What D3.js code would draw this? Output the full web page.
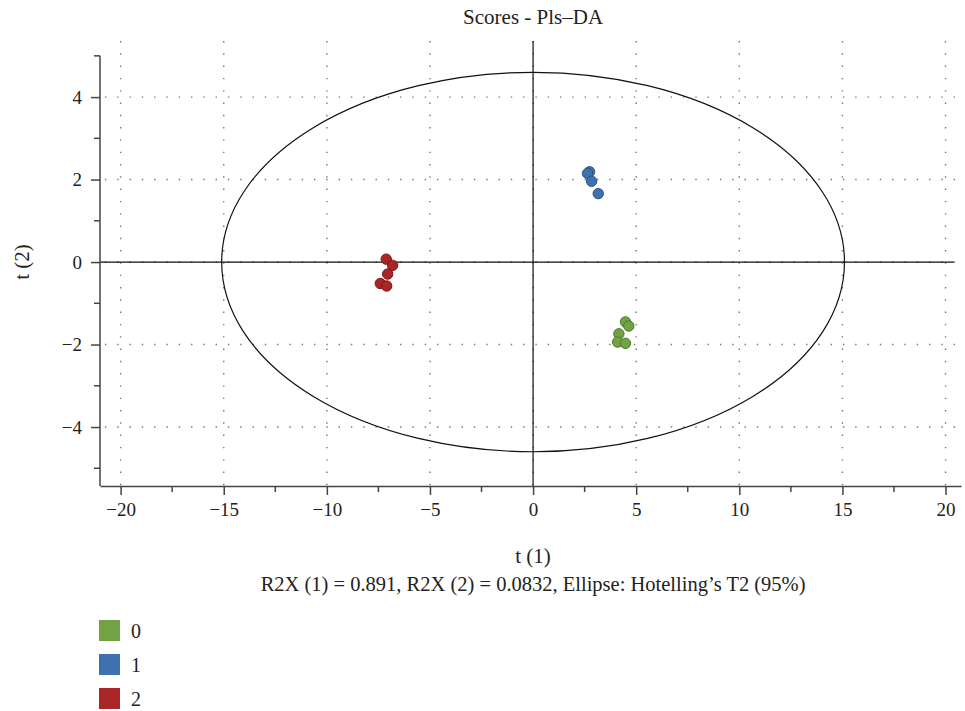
<!DOCTYPE html>
<html>
<head>
<meta charset="utf-8">
<script src="https://cdn.jsdelivr.net/npm/d3@7"></script>
<style>
  body { margin: 0; background: #fff; }
  text { font-family: "Liberation Serif", "DejaVu Serif", serif; fill: #222; }
</style>
</head>
<body>
<svg id="chart" width="965" height="711"></svg>
<script>
// group labels and scores
var groups = ["0", "1", "2"];
var groupColors = ["#72a244", "#3f71b0", "#aa2526"];
var groupStrokes = ["#4e7a2a", "#2a5288", "#7e1618"];

var t1 = [4.48, 4.64, 4.16, 4.10, 4.48,
          2.74, 2.64, 2.84, 3.16,
          -7.12, -6.81, -7.05, -7.41, -7.10];
var t2 = [-1.45, -1.55, -1.74, -1.94, -1.97,
          2.19, 2.15, 1.96, 1.66,
          0.07, -0.08, -0.29, -0.52, -0.58];
var cls = [0, 0, 0, 0, 0,
           1, 1, 1, 1,
           2, 2, 2, 2, 2];

var xTicks = [-20, -15, -10, -5, 0, 5, 10, 15, 20];
var xMinor = [-17.5, -12.5, -7.5, -2.5, 2.5, 7.5, 12.5, 17.5];
var yTicks = [-4, -2, 0, 2, 4];
var yMinor = [-5, -3, -1, 1, 3, 5];

var ellipseRx = 15.1, ellipseRy = 4.6;

var svg = d3.select("#chart");

var x = d3.scaleLinear().domain([-21, 20.75]).range([100, 961]);
var y = d3.scaleLinear().domain([-5.43, 5.36]).range([486, 41]);

var fmt = function (d) { return d < 0 ? "\u2212" + Math.abs(d) : String(d); };

// dotted grid
var grid = svg.append("g")
  .attr("stroke", "#777")
  .attr("stroke-width", 1.4)
  .attr("stroke-dasharray", "1.4,10.9")
  .attr("fill", "none");

grid.selectAll("line.v")
  .data(xTicks)
  .enter().append("line")
  .attr("x1", function (d) { return x(d); })
  .attr("x2", function (d) { return x(d); })
  .attr("y1", y.range()[1])
  .attr("y2", y.range()[0]);

grid.selectAll("line.h")
  .data(yTicks)
  .enter().append("line")
  .attr("x1", x.range()[1] - 6)
  .attr("x2", x.range()[0])
  .attr("y1", function (d) { return y(d); })
  .attr("y2", function (d) { return y(d); });

// zero lines
svg.append("line")
  .attr("x1", x(0)).attr("x2", x(0))
  .attr("y1", y.range()[1]).attr("y2", y.range()[0])
  .attr("stroke", "#111").attr("stroke-width", 1.2);
svg.append("line")
  .attr("x1", x.range()[0]).attr("x2", x(20.4))
  .attr("y1", y(0)).attr("y2", y(0))
  .attr("stroke", "#111").attr("stroke-width", 1.2);

// Hotelling's T2 ellipse
svg.append("ellipse")
  .attr("cx", x(0)).attr("cy", y(0))
  .attr("rx", x(ellipseRx) - x(0))
  .attr("ry", y(0) - y(ellipseRy))
  .attr("fill", "none")
  .attr("stroke", "#111")
  .attr("stroke-width", 1.2);

// axes
var xAxis = svg.append("g")
  .attr("transform", "translate(0," + y.range()[0] + ")")
  .call(d3.axisBottom(x).tickValues(xTicks).tickFormat(fmt).tickSize(9).tickSizeOuter(0).tickPadding(8));
xAxis.selectAll("g.minor")
  .data(xMinor)
  .enter().append("line")
  .attr("x1", function (d) { return x(d); })
  .attr("x2", function (d) { return x(d); })
  .attr("y1", 0).attr("y2", 6);

var yAxis = svg.append("g")
  .attr("transform", "translate(" + x.range()[0] + ",0)")
  .call(d3.axisLeft(y).tickValues(yTicks).tickFormat(fmt).tickSize(9).tickSizeOuter(0).tickPadding(9));
yAxis.select(".domain").attr("d", "M0," + y(5) + "V" + y.range()[0]);
yAxis.selectAll("g.minor")
  .data(yMinor)
  .enter().append("line")
  .attr("x1", -6).attr("x2", 0)
  .attr("y1", function (d) { return y(d); })
  .attr("y2", function (d) { return y(d); });

[xAxis, yAxis].forEach(function (a) {
  a.selectAll("path, line").attr("stroke", "#444").attr("stroke-width", 1.5);
  a.selectAll("text")
    .style("font-family", "'Liberation Serif', serif")
    .style("font-size", "19px")
    .attr("fill", "#222");
});

// points
var pts = d3.range(t1.length);
svg.append("g").selectAll("circle")
  .data(pts)
  .enter().append("circle")
  .attr("cx", function (i) { return x(t1[i]); })
  .attr("cy", function (i) { return y(t2[i]); })
  .attr("r", 5.2)
  .attr("fill", function (i) { return groupColors[cls[i]]; })
  .attr("stroke", function (i) { return groupStrokes[cls[i]]; })
  .attr("stroke-width", 1);

// titles
svg.append("text")
  .attr("x", x(0)).attr("y", 24)
  .attr("text-anchor", "middle")
  .style("font-size", "21px")
  .text("Scores - Pls\u2013DA");

svg.append("text")
  .attr("transform", "translate(29," + y(0) + ") rotate(-90)")
  .attr("text-anchor", "middle")
  .style("font-size", "21px")
  .text("t (2)");

svg.append("text")
  .attr("x", x(0)).attr("y", 563)
  .attr("text-anchor", "middle")
  .style("font-size", "21px")
  .text("t (1)");

svg.append("text")
  .attr("x", x(0)).attr("y", 591)
  .attr("text-anchor", "middle")
  .style("font-size", "20.5px")
  .text("R2X (1) = 0.891, R2X (2) = 0.0832, Ellipse: Hotelling\u2019s T2 (95%)");

// legend
var legend = svg.append("g").selectAll("g")
  .data(groups)
  .enter().append("g")
  .attr("transform", function (d, i) { return "translate(99," + (620 + i * 34) + ")"; });
legend.append("rect")
  .attr("width", 21).attr("height", 21)
  .attr("fill", function (d, i) { return groupColors[i]; });
legend.append("text")
  .attr("x", 32).attr("y", 18)
  .style("font-size", "20px")
  .text(function (d) { return d; });
</script>
</body>
</html>
